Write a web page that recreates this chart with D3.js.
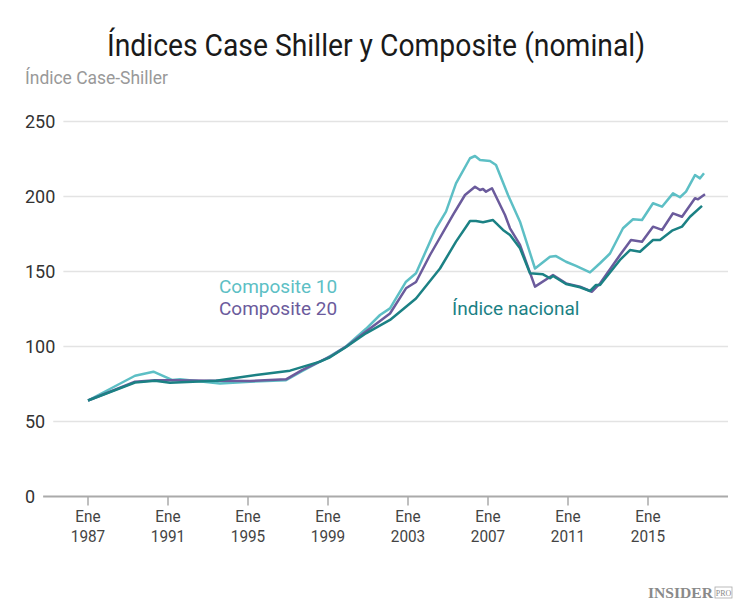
<!DOCTYPE html>
<html><head><meta charset="utf-8">
<script src="https://cdn.jsdelivr.net/npm/d3@7"></script>
<style>
body{margin:0;background:#fff;}
</style></head>
<body><svg id="c" width="750" height="601" style="font-family:Roboto,'Noto Sans',sans-serif"></svg>
<script>
const title = "Índices Case Shiller y Composite (nominal)";
const yTitle = "Índice Case-Shiller";
const yTicks = [0, 50, 100, 150, 200, 250];
const xTicks = [1987, 1991, 1995, 1999, 2003, 2007, 2011, 2015];
const xTickTop = "Ene";

const c10Dates = [1987.0,1989.35,1990.27,1991.2,1991.6,1993.6,1995.1,1996.9,1997.7,1998.9,1999.9,2000.9,2001.6,2002.1,2002.9,2003.4,2004.4,2004.9,2005.4,2006.1,2006.35,2006.6,2007.1,2007.4,2008.0,2008.6,2009.35,2010.1,2010.4,2010.9,2011.4,2012.1,2012.6,2013.1,2013.75,2014.25,2014.7,2015.25,2015.7,2016.25,2016.6,2016.9,2017.35,2017.6,2017.8];
const c10Values = [64,80.5,83.2,77.7,78.1,75.4,76.5,77.5,83.5,92,100,111.8,121,125.4,143.2,148.8,178.8,189.9,208.8,225.5,227,224.3,223.7,221,201,183.2,152,159.9,160.3,156.5,153.7,149.4,155.5,162,178.8,184.8,184.3,195.5,193.2,202.1,199.5,203.2,214.3,212.1,215.5];

const c20Dates = [1987.0,1989.35,1990.35,1991.1,1993.4,1995.1,1996.9,1997.7,1999.1,1999.9,2000.9,2002.1,2002.9,2003.4,2004.1,2005.25,2005.85,2006.35,2006.6,2006.75,2006.9,2007.2,2007.85,2008.1,2008.6,2009.35,2010.25,2010.9,2011.6,2012.2,2012.6,2013.6,2014.15,2014.7,2015.25,2015.7,2016.25,2016.7,2017.35,2017.5,2017.85];
const c20Values = [64,76.5,77.5,77.5,77.2,77,78.1,84.3,93.2,99.9,110,122,138.8,143,161,187.7,201,206.5,204.3,205,203.2,205.5,187.7,178.8,167.7,139.9,147.7,142.1,139.9,136.5,142,161,171,169.9,179.9,177.7,188.8,186.5,198.8,198.1,201.5];

const natDates = [1987.0,1989.35,1990.35,1991.1,1993.4,1995.6,1997.1,1998.6,1999.1,1999.85,2000.9,2002.1,2003.4,2004.6,2005.4,2006.1,2006.4,2006.75,2007.25,2007.75,2008.1,2008.6,2009.1,2009.75,2010.1,2010.25,2010.9,2011.6,2012.1,2012.4,2012.6,2013.6,2014.1,2014.6,2015.25,2015.6,2016.2,2016.7,2017.1,2017.7];
const natValues = [64,76,77.2,75.9,77.2,81.4,83.9,89.9,92.8,99.2,108.8,117.7,132,152,169.9,183.7,183.7,182.8,184.3,177.7,174.3,165.5,148.8,148.1,145.5,147,141.7,139.5,137,141,141,157.7,164.3,163.2,171,171,177.2,179.9,186.5,193.8];

const seriesNames = ["Composite 10", "Composite 20", "Índice nacional"];
const seriesColors = ["#5dbfc5", "#6b5b9c", "#1b8184"];

const svg = d3.select("#c");
const x = d3.scaleLinear().domain([1987, 2015]).range([88, 648]);
const y = d3.scaleLinear().domain([0, 250]).range([496.5, 121.5]);

function condense(sel, factor) {
  const w = sel.node().getComputedTextLength();
  sel.attr("textLength", w * factor).attr("lengthAdjust", "spacingAndGlyphs");
}

const tt = svg.append("text").attr("x", 376).attr("y", 56).attr("text-anchor", "middle")
  .attr("font-size", 31).attr("fill", "#1a1a1a").text(title);
tt.attr("textLength", 538).attr("lengthAdjust", "spacingAndGlyphs");
const st = svg.append("text").attr("x", 25).attr("y", 84).attr("font-size", 18)
  .attr("fill", "#999").text(yTitle);
st.attr("textLength", 143).attr("lengthAdjust", "spacingAndGlyphs");

// y grid + labels
yTicks.forEach(v => {
  const t = svg.append("text").attr("x", 25).attr("y", y(v) + 6.5)
    .attr("font-size", 18).attr("fill", "#333").text(v);
  const w = t.node().getComputedTextLength();
  svg.append("line").attr("x1", 25 + w + 8).attr("x2", 728)
    .attr("y1", y(v)).attr("y2", y(v))
    .attr("stroke", v === 0 ? "#aaaaaa" : "#e3e3e3")
    .attr("stroke-width", v === 0 ? 2 : 1.5);
});

// x ticks
const xg = svg.append("g");
xTicks.forEach(t => {
  xg.append("line").attr("x1", x(t)).attr("x2", x(t)).attr("y1", y(0)).attr("y2", y(0) + 9)
    .attr("stroke", "#aaa").attr("stroke-width", 1.5);
  const a = xg.append("text").attr("x", x(t)).attr("y", 522).attr("text-anchor", "middle")
    .attr("font-size", 17).attr("fill", "#444").text(xTickTop);
  condense(a, 0.9);
  const b = xg.append("text").attr("x", x(t)).attr("y", 542).attr("text-anchor", "middle")
    .attr("font-size", 17).attr("fill", "#444").text(t);
  condense(b, 0.9);
});

const line = d3.line().x(d => x(d[0])).y(d => y(d[1]));
const data = [
  d3.zip(c10Dates, c10Values),
  d3.zip(c20Dates, c20Values),
  d3.zip(natDates, natValues)
];
[0, 1, 2].forEach(i => {
  svg.append("path").datum(data[i]).attr("d", line).attr("fill", "none")
    .attr("stroke", seriesColors[i]).attr("stroke-width", 2.5)
    .attr("stroke-linejoin", "round");
});

// labels
const labelPos = [[219, 293], [219, 315], [452, 315]];
seriesNames.forEach((n, i) => {
  svg.append("text").attr("x", labelPos[i][0]).attr("y", labelPos[i][1])
    .attr("font-size", 19).attr("fill", seriesColors[i]).text(n);
});

// logo
const lg = svg.append("g").attr("transform", "translate(648,598)")
  .style("font-family", "'Liberation Serif','DejaVu Serif',serif");
lg.append("text").attr("x", 0).attr("y", 0)
  .attr("font-weight", "bold").attr("font-size", 15).attr("fill", "#8a8a8a").text("INSIDER")
  .attr("textLength", 65).attr("lengthAdjust", "spacingAndGlyphs");
lg.append("rect").attr("x", 67).attr("y", -11).attr("width", 17).attr("height", 11)
  .attr("fill", "none").attr("stroke", "#aaa").attr("stroke-width", 0.8);
lg.append("text").attr("x", 75.5).attr("y", -2.5).attr("text-anchor", "middle")
  .attr("font-size", 8).attr("fill", "#8a8a8a").text("PRO");
</script></body></html>
